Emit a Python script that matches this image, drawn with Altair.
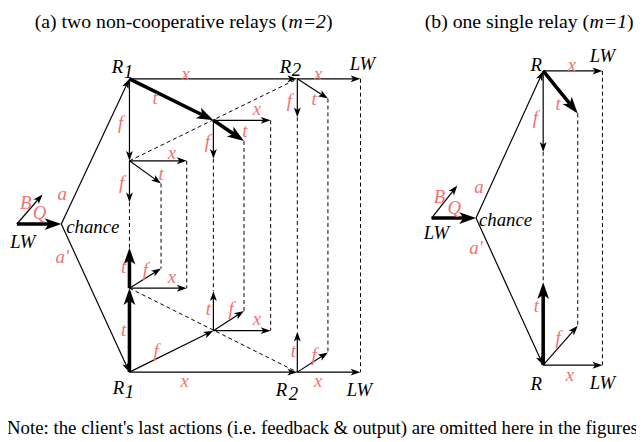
import math
import altair as alt
import pandas as pd

# ---------------- diagram data (pixel positions) ----------------
node_name = ["a_lw", "a_b", "a_ch", "a_r1u", "a_r1d", "a_r2u", "a_r2d", "a_lwu", "a_lwd",
             "u1", "u2", "u3", "u4", "u5", "u6", "u7", "u8", "u9", "u10",
             "l1", "l2", "l3", "l4", "l5", "l6", "l7", "l8", "l9", "l10",
             "b_lw", "b_b", "b_ch", "b_ru", "b_rd", "b_lwu", "b_lwd", "b_t", "b_f", "b_t2", "b_f2"]
node_x = [17, 43, 62, 131, 131, 301, 301, 365, 365,
          216, 247, 274, 216, 131, 189, 163, 131, 301, 332,
          216, 247, 274, 216, 131, 189, 163, 131, 301, 332,
          437, 463, 482, 550, 550, 610, 610, 585, 550, 550, 585]
node_y = [224, 194, 224, 77, 374, 77, 374, 77, 374,
          119, 140, 119, 158, 160, 160, 183, 202, 116, 97,
          332, 312, 332, 292, 289, 289, 269, 248, 333, 354,
          218, 185, 218, 69, 367, 69, 367, 112, 151, 283, 327]

thin_from = ["a_lw", "a_ch", "a_ch", "a_r1u", "a_r1u", "u5", "u5", "u5", "u1", "u1",
             "a_r2u", "a_r2u", "a_r2u",
             "a_r1d", "l5", "l5", "a_r1d", "l1", "l1", "l1", "a_r2d", "a_r2d", "a_r2d",
             "b_lw", "b_ch", "b_ch", "b_ru", "b_ru", "b_rd", "b_rd"]
thin_to = ["a_b", "a_r1u", "a_r1d", "a_r2u", "u5", "u6", "u7", "u8", "u3", "u4",
           "a_lwu", "u9", "u10",
           "a_r2d", "l6", "l7", "l1", "l4", "l2", "l3", "a_lwd", "l9", "l10",
           "b_b", "b_ru", "b_rd", "b_lwu", "b_f", "b_f2", "b_lwd"]
thick_from = ["a_lw", "a_r1u", "u1", "a_r1d", "l5", "b_lw", "b_ru", "b_rd"]
thick_to = ["a_ch", "u1", "u2", "l5", "l8", "b_ch", "b_t", "b_t2"]
dash_from = ["u5", "l5", "u8", "u7", "u6", "u4", "u2", "u3", "u9", "u10", "a_lwu",
             "b_f", "b_t", "b_lwu"]
dash_to = ["a_r2u", "a_r2d", "l8", "l7", "l6", "l4", "l2", "l3", "l9", "l10", "a_lwd",
           "b_t2", "b_f2", "b_lwd"]

red_text = ["a", "a'", "B", "Q",
            "x", "t", "f", "x", "t", "f", "x", "t", "f", "x", "f", "t",
            "t", "f", "x", "t", "f", "x", "t", "f", "x", "t", "f", "x",
            "B", "Q", "a", "a'", "x", "t", "f", "t", "f", "x"]
red_x = [63, 63, 26, 40,
         188, 157, 122, 260, 248, 210, 174, 163, 123, 322, 293, 318,
         125, 147, 174, 125, 158, 187, 211, 234, 260, 297, 318, 322,
         445, 460, 485, 482, 579, 565, 542, 543, 565, 577]
red_y = [194, 257, 203, 213,
         72, 96, 122, 108, 130, 141, 152, 173, 183, 72, 100, 97,
         268, 271, 278, 331, 353, 383, 310, 310, 320, 353, 357, 383,
         197, 208, 187, 248, 63, 103, 117, 307, 340, 377]

black_text = ["LW", "chance", "R", "1", "R", "2", "LW", "R", "1", "R", "2", "LW",
              "LW", "chance", "R", "LW", "R", "LW"]
black_x = [23, 67, 119, 130, 289, 300, 367, 120, 131, 285, 297, 364,
           442, 485, 543, 610, 543, 610]
black_y = [242, 227, 65, 70, 65, 68, 62, 390, 394, 392, 396, 392,
           233, 220, 63, 54, 386, 385]
black_align = ["center", "left", "center", "center", "center", "center", "center",
               "center", "center", "center", "center", "center",
               "center", "left", "center", "center", "center", "center"]

title_text = ["(a) two non-cooperative relays (", "m=2", ")",
              "(b) one single relay (", "m=1", ")"]
title_x = [35, 292, 330, 430, 597, 635]
title_style = ["normal", "italic", "normal", "normal", "italic", "normal"]
title_y = 25

note_text = "Note: the client's last actions (i.e. feedback & output) are omitted here in the figures"
note_x, note_y = 7, 437

RED = "#f07272"
FONT = "Liberation Serif"

# ---------------- build tables ----------------
pos = {n: (x, y) for n, x, y in zip(node_name, node_x, node_y)}

THIN_L, THICK_L = 10.0, 17.0
ARROW = "M0,0L0.7,2L0,1.5L-0.7,2Z"


def arrow_rows(frm, to, width, head_len):
    seg, heads = [], []
    for a, b in zip(frm, to):
        x1, y1 = pos[a]
        x2, y2 = pos[b]
        dx, dy = x2 - x1, y2 - y1
        L = math.hypot(dx, dy)
        ux, uy = dx / L, dy / L
        back = 0.72 * head_len
        seg.append(dict(x1=x1, y1=y1, x2=x2 - ux * back, y2=y2 - uy * back, w=width))
        ang = math.degrees(math.atan2(dx, -dy)) % 360
        heads.append(dict(x=x2, y=y2, ang=ang, size=head_len ** 2))
    return seg, heads


s1, h1 = arrow_rows(thin_from, thin_to, 1.2, THIN_L)
s2, h2 = arrow_rows(thick_from, thick_to, 3.6, THICK_L)
seg_df = pd.DataFrame(s1 + s2)
head_df = pd.DataFrame(h1 + h2)
dash_df = pd.DataFrame([dict(x1=pos[a][0], y1=pos[a][1], x2=pos[b][0], y2=pos[b][1])
                        for a, b in zip(dash_from, dash_to)])
red_df = pd.DataFrame(dict(t=red_text, x=red_x, y=red_y))
black_df = pd.DataFrame(dict(t=black_text, x=black_x, y=black_y, al=black_align))
title_df = pd.DataFrame(dict(t=title_text, x=title_x, y=[title_y] * 6, st=title_style))
note_df = pd.DataFrame(dict(t=[note_text], x=[note_x], y=[note_y]))

W, H = 636, 434
xs = alt.Scale(domain=[8, 8 + W], zero=False, nice=False)
ys = alt.Scale(domain=[8, 8 + H], zero=False, nice=False, reverse=True)


def X(f):
    return alt.X(f, type="quantitative", scale=xs, axis=None)


def Y(f):
    return alt.Y(f, type="quantitative", scale=ys, axis=None)


dashes = alt.Chart(dash_df).mark_rule(color="black", strokeWidth=1, strokeDash=[4, 3]).encode(
    x=X("x1"), y=Y("y1"), x2="x2", y2="y2")
segs = alt.Chart(seg_df).mark_rule(color="black").encode(
    x=X("x1"), y=Y("y1"), x2="x2", y2="y2",
    strokeWidth=alt.StrokeWidth("w:Q", scale=None))
heads = alt.Chart(head_df).mark_point(shape=ARROW, filled=True, opacity=1, color="black",
                                      strokeWidth=0).encode(
    x=X("x"), y=Y("y"),
    angle=alt.Angle("ang:Q", scale=None),
    size=alt.Size("size:Q", scale=None))

red = alt.Chart(red_df).mark_text(font=FONT, fontSize=19, fontStyle="italic", color=RED,
                                  baseline="middle").encode(x=X("x"), y=Y("y"), text="t")

black_layers = []
for al in ["center", "left"]:
    black_layers.append(
        alt.Chart(black_df[black_df.al == al]).mark_text(
            font=FONT, fontSize=19, fontStyle="italic", color="black",
            baseline="middle", align=al).encode(x=X("x"), y=Y("y"), text="t"))

title_layers = []
for st in ["normal", "italic"]:
    sub = title_df[title_df.st == st]
    title_layers.append(
        alt.Chart(sub).mark_text(font=FONT, fontSize=20, fontStyle=st, color="black",
                                 baseline="alphabetic", align="left").encode(
            x=X("x"), y=Y("y"), text="t"))

note = alt.Chart(note_df).mark_text(font=FONT, fontSize=19.05, color="black",
                                    baseline="alphabetic", align="left").encode(
    x=X("x"), y=Y("y"), text="t")

chart = alt.layer(dashes, segs, heads, red, *black_layers, *title_layers, note).properties(
    width=W, height=H, padding=0, autosize=alt.AutoSizeParams(type="none")
).configure_view(stroke=None)

chart.save("out.html", embed_options={"renderer": "svg", "actions": False})
